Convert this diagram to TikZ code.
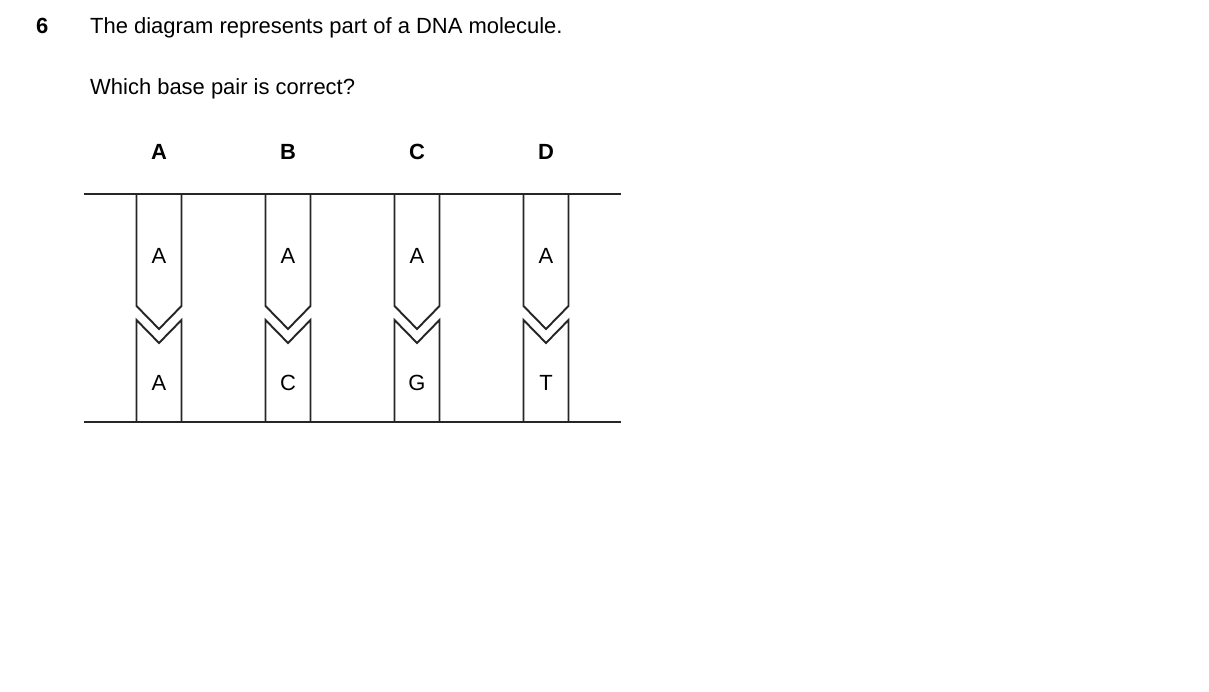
\documentclass[tikz,border=0pt]{standalone}
\usepackage{fontspec}
\setmainfont{Liberation Sans}
\usetikzlibrary{positioning}

\tikzset{
  base/.style={draw=black!85, line width=1.1pt, line join=miter},
  letter/.style={font=\fontsize{12.5}{14}\selectfont},
  option/.style={font=\bfseries\fontsize{12.5}{14}\selectfont}
}

\begin{document}
\begin{tikzpicture}[x=0.02cm, y=-0.02cm]
  \useasboundingbox (0,0) rectangle (1209,692);

  % question text
  \node[anchor=base west, font=\bfseries\fontsize{12.5}{14}\selectfont] (num) at (30,34) {6};
  \node[anchor=base west, font=\fontsize{12.5}{14}\selectfont] (q1) at (84,34) {The diagram represents part of a DNA molecule.};
  \node[anchor=base west, font=\fontsize{12.5}{14}\selectfont] (q2) at (84,95) {Which base pair is correct?};

  % backbones
  \coordinate (tl) at (84,194);
  \coordinate (tr) at (621,194);
  \coordinate (bl) at (84,422);
  \coordinate (br) at (621,422);
  \draw[base] (tl) -- (tr);
  \draw[base] (bl) -- (br);

  % base pairs
  \foreach \x/\opt/\up/\down in {159/A/A/A, 288/B/A/C, 417/C/A/G, 546/D/A/T} {
    \node[option] (opt\opt) at (\x,152) {\opt};
    \draw[base] (\x-22.5,194) -- (\x-22.5,306) -- (\x,329) -- (\x+22.5,306) -- (\x+22.5,194);
    \draw[base] (\x-22.5,422) -- (\x-22.5,320) -- (\x,343) -- (\x+22.5,320) -- (\x+22.5,422);
    \node[letter] (up\opt) at (\x,256) {\up};
    \node[letter] (down\opt) at (\x,383) {\down};
  }
\end{tikzpicture}
\end{document}
